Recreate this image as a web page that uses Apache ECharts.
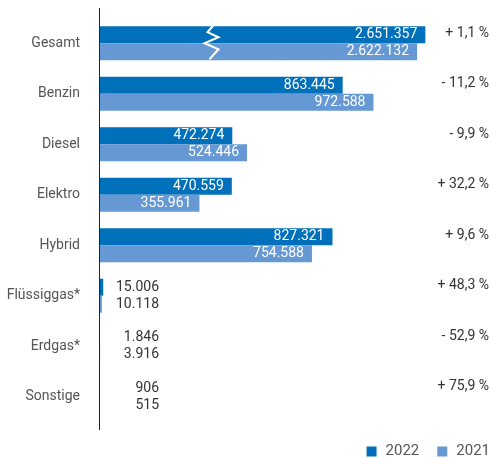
<!DOCTYPE html>
<html>
<head>
<meta charset="utf-8">
<style>
  html, body { margin: 0; padding: 0; background: #fff; }
  #chart { width: 492px; height: 458px; }
</style>
<script src="https://cdn.jsdelivr.net/npm/echarts@6/dist/echarts.min.js"></script>
</head>
<body>
<div id="chart"></div>
<script>
// data
var categories = ['Gesamt', 'Benzin', 'Diesel', 'Elektro', 'Hybrid', 'Flüssiggas*', 'Erdgas*', 'Sonstige'];
var values2022 = [2651357, 863445, 472274, 470559, 827321, 15006, 1846, 906];
var values2021 = [2622132, 972588, 524446, 355961, 754588, 10118, 3916, 515];
var changes = ['+ 1,1 %', '- 11,2 %', '- 9,9 %', '+ 32,2 %', '+ 9,6 %', '+ 48,3 %', '- 52,9 %', '+ 75,9 %'];

// the Gesamt bars are drawn shortened (broken bar)
var breakGap = 1495000;
var breakAt = 395000;

var font = 'Roboto, sans-serif';

function fmt(v) {
  return String(v).replace(/\B(?=(\d{3})+(?!\d))/g, '.');
}

function makeData(vals) {
  return vals.map(function (v, i) {
    var item = { value: i === 0 ? v - breakGap : v, raw: v };
    if (v < 100000) {
      item.label = {
        position: 'insideLeft',
        distance: 0,
        formatter: '{r|' + fmt(v) + '}',
        rich: { r: { width: 60, align: 'right', color: '#333', fontSize: 14, fontFamily: font } }
      };
    }
    return item;
  });
}

var barLabel = {
  show: true,
  position: 'insideRight',
  distance: 8,
  color: '#fff',
  fontSize: 14,
  fontFamily: font,
  formatter: function (p) { return fmt(p.data.raw); }
};

var chart = echarts.init(document.getElementById('chart'), null, { renderer: 'canvas' });

chart.setOption({
  animation: false,
  textStyle: { fontFamily: font },
  grid: { left: 99, right: 11, top: 18, bottom: 36 },
  legend: {
    right: 2,
    top: 444,
    padding: 0,
    itemWidth: 10,
    itemHeight: 10,
    itemGap: 18,
    icon: 'rect',
    textStyle: { color: '#555', fontSize: 15, fontFamily: font, padding: [0, 0, 0, 4] },
    data: ['2022', '2021']
  },
  xAxis: {
    type: 'value',
    min: 0,
    max: 1350000,
    show: false
  },
  yAxis: [
    {
      type: 'category',
      data: categories,
      inverse: true,
      axisLine: { show: false },
      axisTick: { show: false },
      axisLabel: { color: '#555', fontSize: 14, fontFamily: font, margin: 19 }
    },
    {
      type: 'category',
      data: changes,
      inverse: true,
      position: 'right',
      axisLine: { show: false },
      axisTick: { show: false },
      axisLabel: {
        color: '#333', fontSize: 14, fontFamily: font,
        align: 'right', margin: 9, verticalAlign: 'bottom', lineHeight: 20
      }
    }
  ],
  series: [
    {
      name: '2022',
      type: 'bar',
      barWidth: 17,
      barGap: '0%',
      itemStyle: { color: '#0070ba' },
      label: barLabel,
      data: makeData(values2022)
    },
    {
      name: '2021',
      type: 'bar',
      barWidth: 17,
      barGap: '0%',
      itemStyle: { color: '#6699d3' },
      label: barLabel,
      data: makeData(values2021)
    }
  ]
});

// axis line (extends a little past the category bands) and the break zigzag
var p = chart.convertToPixel({ gridIndex: 0 }, [breakAt, 0]);
var z = [[3, -18], [-3, -11], [8, -6], [-6, 0], [8, 6], [-1, 16]];
chart.setOption({
  graphic: [
    {
      type: 'line',
      shape: { x1: 99.5, y1: 8, x2: 99.5, y2: 430 },
      style: { stroke: '#222', lineWidth: 1 },
      z: 10
    },
    {
      type: 'polyline',
      shape: { points: z.map(function (d) { return [p[0] + d[0], p[1] + d[1]]; }) },
      style: { stroke: '#fff', lineWidth: 2, fill: null },
      z: 10
    }
  ]
});
</script>
</body>
</html>
